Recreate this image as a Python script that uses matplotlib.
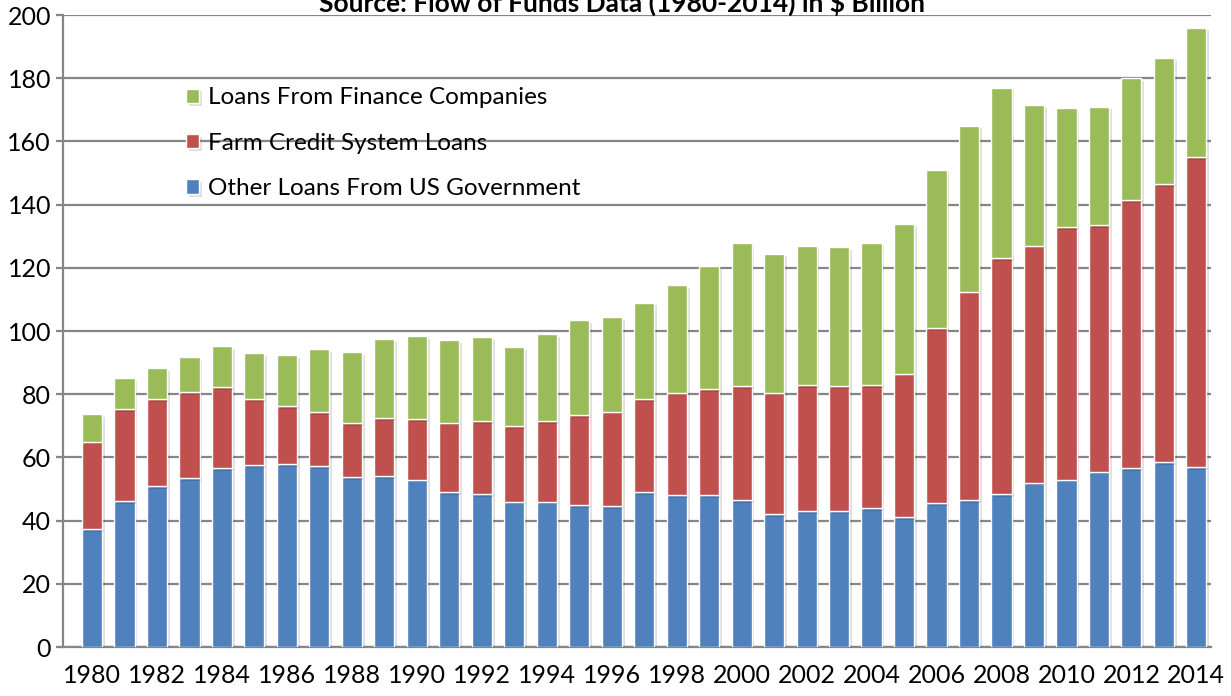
import matplotlib
matplotlib.use("Agg")
import matplotlib.pyplot as plt
import matplotlib.patheffects as pe
import numpy as np

plt.rcParams['font.family'] = ['Lato', 'DejaVu Sans']

# Data ($ billion)
years = list(range(1980, 2015))
other_gov = [37.3, 46.2, 51.0, 53.5, 56.6, 57.6, 58.0, 57.3, 53.8, 54.0,
             53.0, 49.0, 48.5, 46.0, 46.0, 45.0, 44.5, 49.0, 48.0, 48.0,
             46.5, 42.0, 43.0, 43.0, 44.0, 41.0, 45.5, 46.5, 48.5, 52.0,
             53.0, 55.5, 56.5, 58.5, 57.0]
farm_credit = [27.7, 29.1, 27.5, 27.2, 25.7, 20.9, 18.3, 17.1, 17.1, 18.5,
               19.0, 22.0, 23.0, 24.0, 25.5, 28.5, 30.0, 29.5, 32.5, 33.5,
               36.0, 38.5, 40.0, 39.5, 39.0, 45.5, 55.5, 66.0, 74.5, 75.0,
               80.0, 78.0, 85.0, 88.0, 98.0]
finance_cos = [8.7, 9.7, 9.8, 11.1, 13.0, 14.5, 16.1, 19.9, 22.5, 25.0,
               26.5, 26.0, 26.5, 25.0, 27.5, 30.0, 30.0, 30.5, 34.0, 39.0,
               45.5, 44.0, 44.0, 44.0, 45.0, 47.5, 50.0, 52.5, 54.0, 44.5,
               37.5, 37.5, 38.5, 40.0, 41.0]

fig = plt.figure(figsize=(12.31, 6.96), dpi=100)
ax = fig.add_axes([0.051, 0.0704, 0.933, 0.908])

x = np.arange(len(years))
w = 0.62
shadow = [pe.SimplePatchShadow(offset=(2, -2), shadow_rgbFace='#000000', alpha=0.12), pe.Normal()]

b1 = ax.bar(x, other_gov, w, color='#4F81BD', edgecolor='white', linewidth=1,
            label='Other Loans From US Government', zorder=3)
b2 = ax.bar(x, farm_credit, w, bottom=other_gov, color='#C0504D', edgecolor='white',
            linewidth=1, label='Farm Credit System Loans', zorder=3)
bottom2 = np.array(other_gov) + np.array(farm_credit)
b3 = ax.bar(x, finance_cos, w, bottom=bottom2, color='#9BBB59', edgecolor='white',
            linewidth=1, label='Loans From Finance Companies', zorder=3)
for bars in (b1, b2, b3):
    for p in bars:
        p.set_path_effects(shadow)

ax.set_xlim(-0.9, 34.46)
ax.set_ylim(0, 200)
ax.set_yticks(range(0, 201, 20))
ax.set_xticks(x[::2])
ax.set_xticklabels([str(y) for y in years[::2]])
ax.yaxis.grid(True, color='#868686', linewidth=1.6, zorder=0)
ax.set_axisbelow(True)

for s in ('top', 'right'):
    ax.spines[s].set_visible(False)
for s in ('left', 'bottom'):
    ax.spines[s].set_color('#868686')
    ax.spines[s].set_linewidth(1.6)
ax.tick_params(axis='y', length=5, color='#868686', width=1.6, labelsize=18)
ax.tick_params(axis='x', length=0, labelsize=18, pad=12)

handles = [b3, b2, b1]
ax.legend(handles, [h.get_label() for h in handles], loc='upper left',
          bbox_to_anchor=(0.088, 0.92), frameon=False, fontsize=17.5,
          handlelength=0.55, handleheight=0.55, handletextpad=0.35,
          labelspacing=1.0)

fig.text(0.505, 0.996, 'Source: Flow of Funds Data (1980-2014) in $ Billion',
         ha='center', va='center', fontsize=19, fontweight='bold')

fig.savefig('out.png', dpi=100)
